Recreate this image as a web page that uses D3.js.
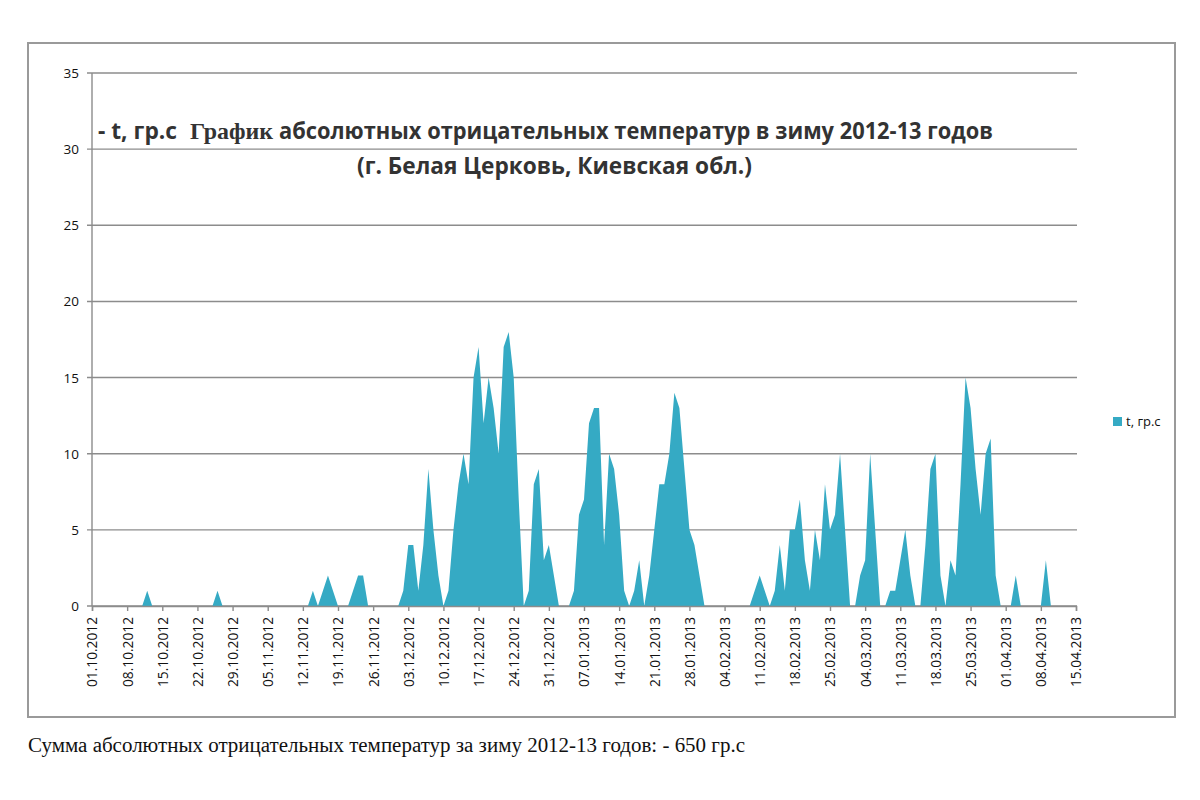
<!DOCTYPE html>
<html>
<head>
<meta charset="utf-8">
<script src="https://cdn.jsdelivr.net/npm/d3@7/dist/d3.min.js"></script>
<style>
  body { margin: 0; background: #fff; }
  svg { display: block; }
</style>
</head>
<body>
<div id="chart"></div>
<script>
// daily values, - t (гр.с), starting 01.10.2012
const startDate = new Date(2012, 9, 1);
const endDate = new Date(2013, 3, 15);
const seriesName = "t, гр.с";
const tempValues = [
  0,0,0,0,0,0,0,0,0,0,0,1,0,0,0,0,0,0,0,0,0,0,0,0,0,1,0,0,0,0,   // 01.10 - 30.10
  0,0,0,0,0,0,0,0,0,0,0,0,0,0,1,0,1,2,1,0,0,0,1,2,2,0,0,0,0,0,   // 31.10 - 29.11
  0,0,1,4,4,1,4,9,5,2,0,1,5,8,10,8,15,17,12,15,13,10,17,18,15,7, // 30.11 - 25.12
  0,1,8,9,3,4,2,0,0,0,1,6,7,12,13,13,4,10,9,6,1,0,1,3,0,         // 26.12 - 19.01
  2,5,8,8,10,14,13,9,5,4,2,0,0,0,0,0,0,0,0,0,0,1,2,1,0,          // 20.01 - 13.02
  1,4,1,5,5,7,3,1,5,3,8,5,6,10,5,0,0,2,3,10,5,0,0,1,1,3,         // 14.02 - 11.03
  5,2,0,0,4,9,10,2,0,3,2,8,15,13,9,6,10,11,2,0,0,0,2,0,0,0,      // 12.03 - 06.04
  0,0,3,0,0,0,0,0,0,0                                            // 07.04 - 15.04
];
const yTicks = [0, 5, 10, 15, 20, 25, 30, 35];
const titleParts = ["- t, гр.с", "График", "абсолютных отрицательных температур в зиму 2012-13 годов"];
const subTitle = "(г. Белая Церковь, Киевская обл.)";
const footNote = "Сумма абсолютных отрицательных температур за зиму 2012-13 годов: - 650 гр.с";

const data = tempValues.map((v, i) => ({ date: d3.timeDay.offset(startDate, i), value: v }));

const W = 1200, H = 800;
const sans = "'Open Sans', 'DejaVu Sans', sans-serif";
const serif = "'Liberation Serif', 'DejaVu Serif', serif";
const gridColor = "#8c8c8c";
const fillColor = "#35aac4";

const svg = d3.select("#chart").append("svg")
    .attr("width", W)
    .attr("height", H);

// chart border
svg.append("rect")
    .attr("x", 28).attr("y", 43)
    .attr("width", 1147).attr("height", 674)
    .attr("fill", "none")
    .attr("stroke", "#9a9a9a")
    .attr("stroke-width", 2);

const x = d3.scaleTime().domain([startDate, endDate]).range([92, 1076]);
const y = d3.scaleLinear().domain([0, 35]).range([606, 73]);

// horizontal gridlines
svg.append("g")
  .selectAll("line")
  .data(yTicks)
  .enter().append("line")
    .attr("x1", 87).attr("x2", 1077)
    .attr("y1", d => y(d)).attr("y2", d => y(d))
    .attr("stroke", gridColor)
    .attr("stroke-width", 1.4);

// y labels
svg.append("g")
  .selectAll("text")
  .data(yTicks)
  .enter().append("text")
    .attr("x", 79)
    .attr("y", d => y(d) + 5)
    .attr("text-anchor", "end")
    .attr("font-family", sans)
    .attr("font-size", 13.5)
    .attr("fill", "#111")
    .text(d => d);

// area
const area = d3.area()
    .x(d => x(d.date))
    .y0(y(0))
    .y1(d => y(d.value));

svg.append("path")
    .datum(data)
    .attr("d", area)
    .attr("fill", fillColor);

// y axis line
svg.append("line")
    .attr("x1", 92).attr("x2", 92)
    .attr("y1", y(35)).attr("y2", y(0))
    .attr("stroke", gridColor)
    .attr("stroke-width", 1.4);

// x axis
const xTickValues = d3.timeDay.range(startDate, d3.timeDay.offset(endDate, 1), 7);
const xAxis = d3.axisBottom(x)
    .tickValues(xTickValues)
    .tickSize(5)
    .tickFormat(d3.timeFormat("%d.%m.%Y"));

const gx = svg.append("g")
    .attr("transform", `translate(0,${y(0)})`)
    .call(xAxis);

gx.select(".domain").attr("stroke", gridColor).attr("stroke-width", 1.4);
gx.selectAll(".tick line").attr("stroke", gridColor).attr("stroke-width", 1.4);
gx.selectAll(".tick text")
    .attr("font-family", sans)
    .attr("font-size", 14)
    .attr("fill", "#111")
    .attr("transform", "rotate(-90)")
    .attr("text-anchor", "end")
    .attr("x", -11)
    .attr("y", 0)
    .attr("dy", "0.35em")
    .attr("textLength", 70)
    .attr("lengthAdjust", "spacingAndGlyphs");

// title
const title = svg.append("g")
    .attr("font-weight", "bold")
    .attr("fill", "#333");

title.append("text")
    .attr("x", 98).attr("y", 139)
    .attr("font-family", sans).attr("font-size", 23)
    .attr("textLength", 79).attr("lengthAdjust", "spacingAndGlyphs")
    .text(titleParts[0]);

title.append("text")
    .attr("x", 190).attr("y", 139)
    .attr("font-family", serif).attr("font-size", 23)
    .attr("textLength", 83).attr("lengthAdjust", "spacingAndGlyphs")
    .text(titleParts[1]);

title.append("text")
    .attr("x", 279).attr("y", 139)
    .attr("font-family", sans).attr("font-size", 23)
    .attr("textLength", 714).attr("lengthAdjust", "spacingAndGlyphs")
    .text(titleParts[2]);

title.append("text")
    .attr("x", 357).attr("y", 174)
    .attr("font-family", sans).attr("font-size", 23)
    .attr("textLength", 395).attr("lengthAdjust", "spacingAndGlyphs")
    .text(subTitle);

// legend
svg.append("rect")
    .attr("x", 1113).attr("y", 417)
    .attr("width", 9).attr("height", 9)
    .attr("fill", fillColor);

svg.append("text")
    .attr("x", 1126).attr("y", 426)
    .attr("font-family", sans)
    .attr("font-size", 13)
    .attr("fill", "#111")
    .text(seriesName);

// note under the chart
svg.append("text")
    .attr("x", 28).attr("y", 752)
    .attr("font-family", serif)
    .attr("font-size", 20)
    .attr("fill", "#111")
    .attr("textLength", 717).attr("lengthAdjust", "spacingAndGlyphs")
    .text(footNote);
</script>
</body>
</html>
